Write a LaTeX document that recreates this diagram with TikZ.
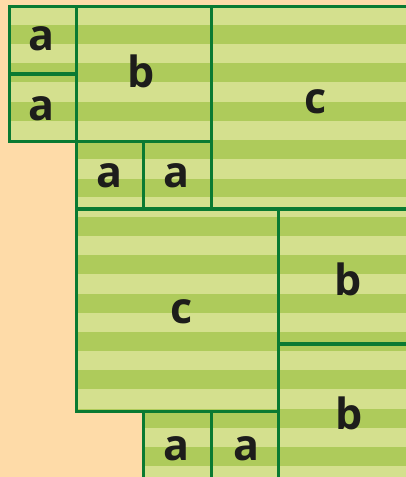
\documentclass[tikz,border=0pt]{standalone}
\usepackage{fontspec}
\setmainfont{Open Sans}
\definecolor{peach}{HTML}{FEDBA8}
\definecolor{lightg}{HTML}{D4E08E}
\definecolor{darkg}{HTML}{AECB5B}
\definecolor{linec}{HTML}{0A7A32}
\definecolor{inkc}{HTML}{1D1D1B}
\begin{document}
\begin{tikzpicture}[x=1pt,y=-1pt,
  lbl/.style={font=\fontsize{43}{43}\selectfont\bfseries, text=inkc, inner sep=0pt},
  edge/.style={draw=linec, line width=3.2pt, line join=miter}]
\useasboundingbox (0,0) rectangle (406,477);
\clip (0,0) rectangle (406,477);
\fill[peach] (0,0) rectangle (406,477);
\def\boxes{9.2/6.4/76.5/73.9, 9.2/73.9/76.5/141.4, 76.5/6.4/211.1/141.4,
  76.5/141.4/143.8/208.9, 143.8/141.4/211.1/208.9, 211.1/6.4/413/208.9,
  76.5/208.9/278.4/411.4, 278.4/208.9/480.3/343.9, 278.4/343.9/480.3/478.9,
  143.8/411.4/211.1/478.9, 211.1/411.4/278.4/478.9}
\begin{scope}
  \clip \foreach \xa/\ya/\xb/\yb in \boxes {(\xa,\ya) rectangle (\xb,\yb)};
  \fill[lightg] (0,0) rectangle (406,477);
  \foreach \k in {0,...,11}
    \fill[darkg] (0,{25.1+38.36*\k}) rectangle (406,{44.0+38.36*\k});
\end{scope}
\foreach \xa/\ya/\xb/\yb in \boxes
  \draw[edge] (\xa,\ya) rectangle (\xb,\yb);
\node[lbl] (la1) at (41.5,38.5) {a};
\node[lbl] (la2) at (41.5,108.3) {a};
\node[lbl] (lb1) at (141.5,71) {b};
\node[lbl] (la3) at (109.7,175.7) {a};
\node[lbl] (la4) at (176.3,175.7) {a};
\node[lbl] (lc1) at (315.5,102) {c};
\node[lbl] (lb2) at (348.3,279.5) {b};
\node[lbl] (lc2) at (181.3,311.7) {c};
\node[lbl] (lb3) at (349.3,413) {b};
\node[lbl] (la5) at (176.3,448.5) {a};
\node[lbl] (la6) at (246.7,448.3) {a};
\end{tikzpicture}
\end{document}
